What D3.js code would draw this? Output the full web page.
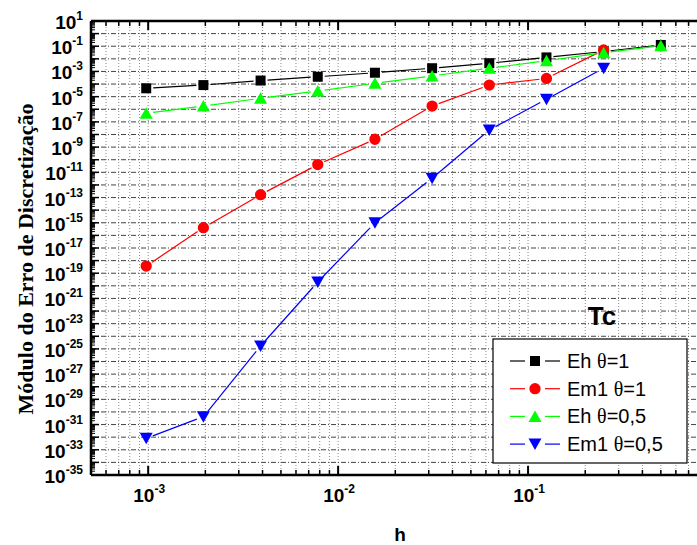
<!DOCTYPE html>
<html>
<head>
<meta charset="utf-8">
<script src="https://cdn.jsdelivr.net/npm/d3@7"></script>
<style>
body{margin:0;background:#fff;}
text{font-family:"Liberation Sans",Arial,sans-serif;}
</style>
</head>
<body>
<div id="chart"></div>
<script>
// data (h = 2^-10 ... 2^-1)
var h = [1/1024, 1/512, 1/256, 1/128, 1/64, 1/32, 1/16, 1/8, 1/4, 1/2];
var ehT1 = [4.6e-5, 8.3e-5, 1.9e-4, 3.8e-4, 7.9e-4, 1.8e-3, 4.5e-3, 1.3e-2, 3.8e-2, 1.26e-1];
var em1T1 = [3.7e-19, 4.1e-16, 1.7e-13, 4.1e-11, 4.2e-9, 1.8e-6, 8.3e-5, 2.8e-4, 5.0e-2];
var ehT05 = [4.8e-7, 1.8e-6, 7.4e-6, 2.8e-5, 1.15e-4, 4.4e-4, 1.8e-3, 7.1e-3, 3.1e-2, 1.1e-1];
var em1T05 = [8.1e-33, 4.2e-31, 1.7e-25, 2.0e-20, 1.0e-15, 3.4e-12, 2.3e-8, 6.2e-6, 1.8e-3];
var seriesNames = ["Eh", "Em1", "Eh", "Em1"];
var thetas = ["1", "1", "0,5", "0,5"];
var xLabelExps = [-3, -2, -1];
var yLabelExps = [1, -1, -3, -5, -7, -9, -11, -13, -15, -17, -19, -21, -23, -25, -27, -29, -31, -33, -35];

var W = 697, H = 545;
var plot = {left: 91, top: 21, right: 718, bottom: 475};

var svg = d3.select("#chart").append("svg").attr("width", W).attr("height", H);

var x = d3.scaleLog().domain([5e-4, 1]).range([plot.left, plot.right]);
var y = d3.scaleLog().domain([1e-35, 1e1]).range([plot.bottom, plot.top]);

// tick positions
var xMinor = [], xMajor = [];
for (var k = -4; k <= 0; k++) {
    for (var m = 1; m <= 9; m++) {
        var v = m * Math.pow(10, k);
        if (v < 5e-4 - 1e-12 || v > 1) continue;
        if (m == 1) xMajor.push(v); else xMinor.push(v);
    }
}
var yMajor = [], yMinor = [];
for (var k = -35; k <= 1; k++) {
    yMajor.push(Math.pow(10, k));
    if (k < 1) for (var m = 2; m <= 9; m++) yMinor.push(m * Math.pow(10, k));
}

var clip = svg.append("defs").append("clipPath").attr("id", "plotclip")
    .append("rect").attr("x", plot.left).attr("y", plot.top)
    .attr("width", plot.right - plot.left).attr("height", plot.bottom - plot.top);

// grid
var grid = svg.append("g").attr("clip-path", "url(#plotclip)");
grid.selectAll("line.vg").data(xMajor.concat(xMinor)).enter().append("line")
    .attr("x1", function(d){ return x(d); }).attr("x2", function(d){ return x(d); })
    .attr("y1", plot.top).attr("y2", plot.bottom)
    .attr("style", "stroke:#8a8a8a;stroke-width:1px;stroke-dasharray:1,2");
grid.selectAll("line.hg").data(yMajor).enter().append("line")
    .attr("x1", plot.left).attr("x2", plot.right)
    .attr("y1", function(d){ return y(d); }).attr("y2", function(d){ return y(d); })
    .attr("style", "stroke:#444;stroke-width:1px;stroke-dasharray:5,2,1,2");

// series
var series = [
    {vals: ehT1, color: "#000000", sym: "square", r: 7},
    {vals: em1T1, color: "#ff0000", sym: "circle", r: 7},
    {vals: ehT05, color: "#00ff00", sym: "up", r: 7},
    {vals: em1T05, color: "#0000ff", sym: "down", r: 7}
];

function symbolPath(s) {
    if (s == "square") return "M-5,-5H5V5H-5Z";
    if (s == "circle") return d3.symbol().type(d3.symbolCircle).size(100)();
    if (s == "up") return "M0,-6L6.5,5.5L-6.5,5.5Z";
    return "M0,6L6.5,-5.5L-6.5,-5.5Z";
}

var gData = svg.append("g").attr("clip-path", "url(#plotclip)");
series.forEach(function(s) {
    var pts = s.vals.map(function(v, i){ return [x(h[i]), y(v)]; });
    var segs = [];
    for (var i = 0; i < pts.length - 1; i++) {
        var dx = pts[i+1][0] - pts[i][0], dy = pts[i+1][1] - pts[i][1];
        var len = Math.sqrt(dx*dx + dy*dy);
        if (len <= 2 * s.r) continue;
        var ux = dx / len, uy = dy / len;
        segs.push([pts[i][0] + ux*s.r, pts[i][1] + uy*s.r, pts[i+1][0] - ux*s.r, pts[i+1][1] - uy*s.r]);
    }
    gData.append("g").selectAll("line").data(segs).enter().append("line")
        .attr("x1", function(d){ return d[0]; }).attr("y1", function(d){ return d[1]; })
        .attr("x2", function(d){ return d[2]; }).attr("y2", function(d){ return d[3]; })
        .attr("style", "stroke:" + s.color + ";stroke-width:1.2px");
    gData.append("g").selectAll("path").data(pts).enter().append("path")
        .attr("d", symbolPath(s.sym))
        .attr("transform", function(d){ return "translate(" + d[0] + "," + d[1] + ")"; })
        .style("fill", s.color).style("stroke", "none");
});

// frame and ticks (pointing inward)
var axes = svg.append("g");
axes.append("line").attr("x1", plot.left).attr("x2", W + 5).attr("y1", plot.top).attr("y2", plot.top)
    .attr("style", "stroke:#000;stroke-width:2.5px");
axes.append("line").attr("x1", plot.left).attr("x2", W + 5).attr("y1", plot.bottom).attr("y2", plot.bottom)
    .attr("style", "stroke:#000;stroke-width:2.5px");
axes.append("line").attr("x1", plot.left).attr("x2", plot.left).attr("y1", plot.top).attr("y2", plot.bottom)
    .attr("style", "stroke:#000;stroke-width:2.5px");

function xTicks(yy, dir) {
    axes.selectAll(null).data(xMajor).enter().append("line")
        .attr("x1", function(d){ return x(d); }).attr("x2", function(d){ return x(d); })
        .attr("y1", yy).attr("y2", yy + dir * 9).attr("style", "stroke:#000;stroke-width:2px");
    axes.selectAll(null).data(xMinor).enter().append("line")
        .attr("x1", function(d){ return x(d); }).attr("x2", function(d){ return x(d); })
        .attr("y1", yy).attr("y2", yy + dir * 5).attr("style", "stroke:#000;stroke-width:1.5px");
}
xTicks(plot.top, 1);
xTicks(plot.bottom, -1);

axes.selectAll(null).data(yMajor).enter().append("line")
    .attr("x1", plot.left).attr("x2", plot.left + 8)
    .attr("y1", function(d){ return y(d); }).attr("y2", function(d){ return y(d); })
    .attr("style", "stroke:#000;stroke-width:1.5px");
axes.selectAll(null).data(yMinor).enter().append("line")
    .attr("x1", plot.left).attr("x2", plot.left + 4)
    .attr("y1", function(d){ return y(d); }).attr("y2", function(d){ return y(d); })
    .attr("style", "stroke:#000;stroke-width:1px");

// tick labels
var yl = svg.append("g").selectAll("text").data(yLabelExps).enter().append("text")
    .attr("x", 83).attr("y", function(d){ return y(Math.pow(10, d)) + 8; })
    .attr("text-anchor", "end")
    .style("font-weight", "bold").style("font-size", "19px");
yl.append("tspan").text("10");
yl.append("tspan").attr("dy", -9).style("font-size", "12px").text(function(d){ return d; });

var xl = svg.append("g").selectAll("text").data(xLabelExps).enter().append("text")
    .attr("x", function(d){ return x(Math.pow(10, d)) + 1; }).attr("y", 502)
    .attr("text-anchor", "middle")
    .style("font-weight", "bold").style("font-size", "19px");
xl.append("tspan").text("10");
xl.append("tspan").attr("dy", -9).style("font-size", "12px").text(function(d){ return d; });

// axis titles
svg.append("text").attr("x", 400).attr("y", 541).attr("text-anchor", "middle")
    .style("font-weight", "bold").style("font-size", "19px").text("h");
svg.append("text").attr("transform", "translate(33,259) rotate(-90)").attr("text-anchor", "middle")
    .style("font-family", "'Liberation Serif','Times New Roman',serif")
    .style("font-weight", "bold").style("font-size", "22px")
    .text("Módulo do Erro de Discretização");

svg.append("text").attr("x", 602).attr("y", 325).attr("text-anchor", "middle")
    .style("font-weight", "bold").style("font-size", "26px").text("Tc");

// legend
var lg = svg.append("g");
lg.append("rect").attr("x", 493).attr("y", 339).attr("width", 194).attr("height", 124)
    .attr("style", "fill:#fff;stroke:#000;stroke-width:1.2px");
series.forEach(function(s, i) {
    var ly = 361 + i * 27.7;
    lg.append("line").attr("x1", 510).attr("x2", 525).attr("y1", ly).attr("y2", ly)
        .attr("style", "stroke:" + s.color + ";stroke-width:1.2px");
    lg.append("line").attr("x1", 545).attr("x2", 560).attr("y1", ly).attr("y2", ly)
        .attr("style", "stroke:" + s.color + ";stroke-width:1.2px");
    lg.append("path").attr("d", symbolPath(s.sym)).attr("transform", "translate(535," + ly + ")")
        .style("fill", s.color);
    var t = lg.append("text").attr("x", 567).attr("y", ly + 7).style("font-size", "20px");
    t.append("tspan").text(seriesNames[i] + " ");
    t.append("tspan").style("font-family", "'Liberation Serif',serif").text("θ");
    t.append("tspan").text("=" + thetas[i]);
});
</script>
</body>
</html>
